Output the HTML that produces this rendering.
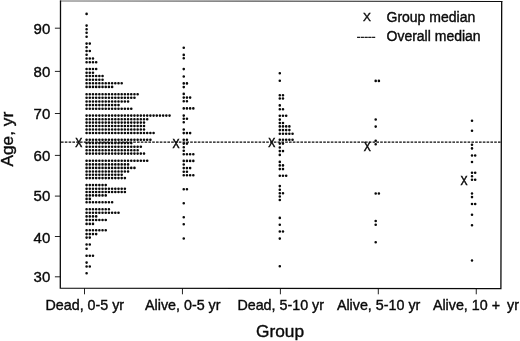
<!DOCTYPE html>
<html lang="en">
<head>
<meta charset="utf-8">
<title>Age by group dot plot</title>
<style>
html,body{margin:0;padding:0;background:#fff;}
body{width:520px;height:341px;overflow:hidden;}
svg{display:block;will-change:transform;}
text{font-family:"Liberation Sans",Arial,Helvetica,sans-serif;fill:#0a0a0a;stroke:#0a0a0a;stroke-width:0.38px;}
.ax{stroke:#0a0a0a;fill:none;}
</style>
</head>
<body>
<svg width="520" height="341" viewBox="0 0 520 341">
<rect x="0" y="0" width="520" height="341" fill="#fff"/>
<defs><linearGradient id="tg" gradientUnits="userSpaceOnUse" x1="60" y1="0" x2="502" y2="0"><stop offset="0" stop-color="#6a6a6a"/><stop offset="0.55" stop-color="#4a4a4a"/><stop offset="1" stop-color="#0a0a0a"/></linearGradient></defs>
<path fill="none" stroke="url(#tg)" stroke-width="1.05" d="M59.9 0.9L502.3 1.4"/>
<path class="ax" stroke-width="1.3" stroke-linejoin="miter" d="M60.5 0.45L60.3 288.2L500.9 288.7L501.7 0.9"/>
<path class="ax" stroke-width="0.9" d="M54.9 28.2H60.4M54.9 71.4H60.4M54.9 113.5H60.4M54.9 155.4H60.4M54.9 196.1H60.4M54.9 236.5H60.4M54.9 276.8H60.4M84.5 288.2V294.3M182.45 288.2V294.3M280.4 288.2V294.3M378.3 288.2V294.3M476.25 288.2V294.3"/>
<text x="50.3" y="33.55" font-size="15" text-anchor="end">90</text>
<text x="50.3" y="76.65" font-size="15" text-anchor="end">80</text>
<text x="50.3" y="118.85" font-size="15" text-anchor="end">70</text>
<text x="50.3" y="160.60" font-size="15" text-anchor="end">60</text>
<text x="50.3" y="201.10" font-size="15" text-anchor="end">50</text>
<text x="50.3" y="242.50" font-size="15" text-anchor="end">40</text>
<text x="50.3" y="282.20" font-size="15" text-anchor="end">30</text>
<text x="84.8" y="310.2" font-size="14.3" text-anchor="middle" xml:space="preserve">Dead, 0-5 yr</text>
<text x="182.75" y="310.2" font-size="14.3" text-anchor="middle" xml:space="preserve">Alive, 0-5 yr</text>
<text x="280.7" y="310.2" font-size="14.3" text-anchor="middle" xml:space="preserve">Dead, 5-10 yr</text>
<text x="378.6" y="310.2" font-size="14.3" text-anchor="middle" xml:space="preserve">Alive, 5-10 yr</text>
<text x="475.95" y="310.2" font-size="14.3" text-anchor="middle" xml:space="preserve">Alive, 10 +  <tspan dx="-0.9">yr</tspan></text>
<text x="280" y="336.7" font-size="17.3" text-anchor="middle">Group</text>
<text transform="translate(13.2 166.6) rotate(-90)" font-size="17.3">Age, yr</text>
<path class="ax" stroke-width="1.2" stroke-dasharray="2.6 1.2" d="M61 142.1H501"/>
<path d="M86.6 13.9h0.05M86.6 25.6h0.05M86.6 29.2h0.05M86.6 32.8h0.05M86.6 36.7h0.05M86.6 43.6h3.24M86.6 47.3h0.05M86.6 51h3.24M86.6 54.8h0.05M86.6 58.5h6.43M86.6 62.3h9.62M86.6 69h9.62M86.6 72.7h6.43M86.6 76h16.00M86.6 79.7h16.00M86.6 83.3h35.14M86.6 86.9h25.57M86.6 94.2h51.09M86.6 97.8h47.90M86.6 101.5h41.52M86.6 105.1h31.95M86.6 108.8h44.71M86.6 115.6h82.99M86.6 119.2h60.66M86.6 122.6h57.47M86.6 126h57.47M86.6 129.5h57.47M86.6 133h67.04M86.6 139.8h63.85M86.6 143.1h44.71M86.6 146.7h54.28M86.6 150.2h51.09M86.6 153.6h57.47M86.6 160.8h60.66M86.6 164.4h41.52M86.6 167.9h47.90M86.6 171.5h41.52M86.6 174.8h35.14M86.6 178.1h38.33M86.6 185.1h19.19M86.6 188.7h38.33M86.6 192h38.33M86.6 195.4h19.19M86.6 198.9h3.24M86.6 202.2h25.57M86.6 209.3h22.38M86.6 212.8h31.95M86.6 216.4h9.62M86.6 220h19.19M86.6 223.9h6.43M86.6 230.3h19.19M86.6 234.1h9.62M86.6 237.6h3.24M86.6 244.5h3.24M86.6 248.8h0.05M86.6 255.7h6.43M86.6 262.6h0.05M86.6 266.5h3.24M86.6 273.3h0.05M183.75 47.7h0.05M183.75 54.9h0.05M183.75 58.3h0.05M183.75 69.1h0.05M183.75 76.5h0.05M183.75 83.4h3.24M183.75 87.1h0.05M183.75 93.9h0.05M183.75 97.6h6.43M183.75 101.2h3.24M183.75 108.4h9.62M183.75 115.6h0.05M183.75 118.8h3.24M183.75 122.3h0.05M183.75 129.5h0.05M183.75 133.1h6.43M183.75 139.7h3.24M183.75 143.6h3.24M183.75 147.3h0.05M183.75 150.8h0.05M183.75 154.2h9.62M183.75 160.9h9.62M183.75 164.5h0.05M183.75 168.1h6.43M183.75 171.7h3.24M183.75 175.3h9.62M183.75 189.3h3.24M183.75 203.2h0.05M183.75 217.2h0.05M183.75 224.3h0.05M183.75 238.5h0.05M279.8 73.2h0.05M279.8 80.7h0.05M279.8 95.2h3.24M279.8 98.5h3.24M279.8 105.4h0.05M279.8 109.2h3.24M279.8 115.8h6.43M279.8 119.6h0.05M279.8 123h3.24M279.8 126.4h9.62M279.8 130.1h9.62M279.8 133.8h12.81M279.8 139.8h12.81M279.8 143.6h3.24M279.8 147.5h0.05M279.8 151.1h3.24M279.8 154.9h0.05M279.8 161.9h0.05M279.8 165.4h3.24M279.8 169.1h3.24M279.8 175.8h6.43M279.8 186.1h0.05M279.8 189.8h0.05M279.8 193.2h3.24M279.8 196.5h0.05M279.8 200h0.05M279.8 217.9h0.05M279.8 224.8h0.05M279.8 231.5h3.24M279.8 238.6h0.05M279.8 266.3h0.05M375.7 80.9h3.24M375.7 119.5h0.05M375.7 126.6h0.05M375.7 140.8h0.05M375.7 144.2h0.05M375.7 193.5h3.24M375.7 221h0.05M375.7 224.7h0.05M375.7 242.2h0.05M472 120.8h0.05M472 130.8h0.05M472 144.7h0.05M472 148.4h0.05M472 155.5h3.24M472 162h0.05M472 172.7h3.24M472 176.2h0.05M472 179.8h3.24M472 193.5h0.05M472 197.1h0.05M472 204h3.24M472 214.8h0.05M472 225.3h0.05M472 260.5h0.05" fill="none" stroke="#0a0a0a" stroke-width="2.6" stroke-linecap="round" stroke-dasharray="0 3.19"/>
<text transform="translate(78.8 146.8) scale(0.84 1)" font-size="12.6" text-anchor="middle" style="stroke-width:0.5px">X</text>
<text transform="translate(176 147.9) scale(0.84 1)" font-size="12.6" text-anchor="middle" style="stroke-width:0.5px">X</text>
<text transform="translate(271.8 146.8) scale(0.84 1)" font-size="12.6" text-anchor="middle" style="stroke-width:0.5px">X</text>
<text transform="translate(367.2 151.4) scale(0.84 1)" font-size="12.6" text-anchor="middle" style="stroke-width:0.5px">X</text>
<text transform="translate(464.1 184.6) scale(0.84 1)" font-size="12.6" text-anchor="middle" style="stroke-width:0.5px">X</text>
<text transform="translate(366.9 20.8) scale(1.08 1)" font-size="11" text-anchor="middle" style="stroke-width:0.4px">X</text>
<text x="356.7" y="39.9" font-size="11.3">-----</text>
<text x="386.5" y="22" font-size="14">Group median</text>
<text x="386.5" y="41.2" font-size="14">Overall median</text>
</svg>
</body>
</html>
